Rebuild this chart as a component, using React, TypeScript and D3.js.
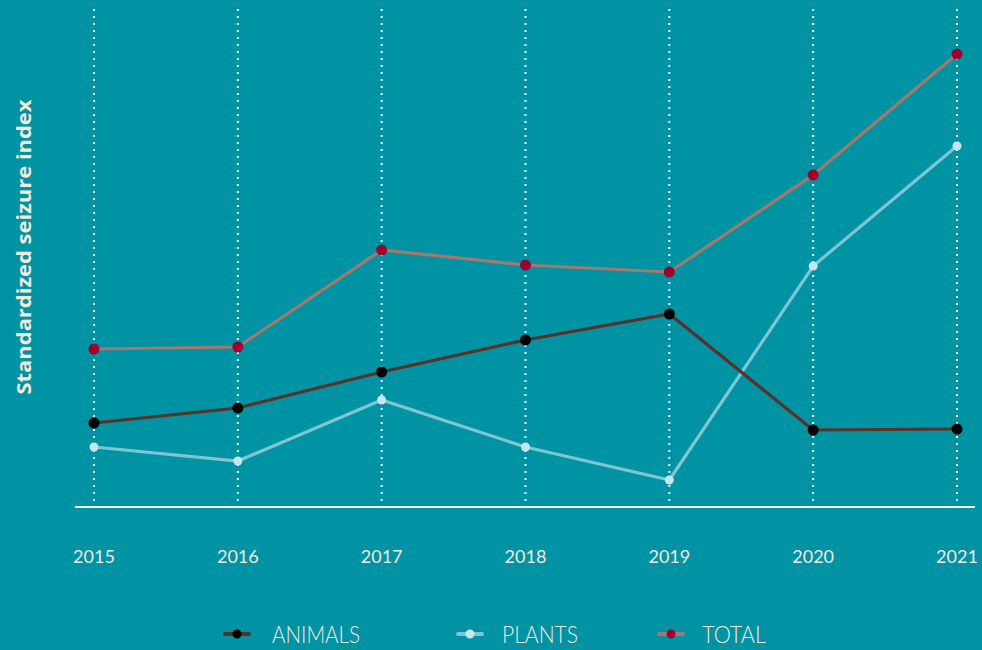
import React from "react";
import * as d3 from "d3";

const years = [2015, 2016, 2017, 2018, 2019, 2020, 2021];
const animals = [16.8, 19.8, 27, 33.4, 38.6, 15.4, 15.6];
const plants = [12, 9.2, 21.4, 12, 5.4, 48.2, 72.2];
const total = [31.6, 32, 51.4, 48.4, 47, 66.4, 90.6];
const seriesNames = ["ANIMALS", "PLANTS", "TOTAL"];

const W = 982;
const H = 650;
const BG = "#0093a4";
const TEXT = "#f3e9dc";

const styles: Record<string, { line: string; dot: string; r: number }> = {
  ANIMALS: { line: "#5b3029", dot: "#000000", r: 5.5 },
  PLANTS: { line: "#7ec6d4", dot: "#c8e5eb", r: 4.5 },
  TOTAL: { line: "#a5786b", dot: "#a0002e", r: 5.5 },
};

export default function App() {
  const x = d3.scalePoint<number>().domain(years).range([94, 957]);
  const y = d3.scaleLinear().domain([0, 100]).range([507, 7]);
  const line = d3
    .line<number>()
    .x((_, i) => x(years[i]) as number)
    .y((d) => y(d));
  const data: Record<string, number[]> = { ANIMALS: animals, PLANTS: plants, TOTAL: total };
  const drawOrder = ["TOTAL", "PLANTS", "ANIMALS"];
  const legendMarkX = [237, 470, 671];
  const legendTextX = [272, 502, 702];
  const legendTextW = [88, 76, 64];

  return (
    <svg
      width={W}
      height={H}
      style={{ position: "fixed", left: 0, top: 0, display: "block" }}
      fontFamily="Lato, 'Open Sans', sans-serif"
    >
      <rect width={W} height={H} fill={BG} />
      {years.map((yr) => (
        <line
          key={yr}
          x1={x(yr)}
          x2={x(yr)}
          y1={y(100) + 2}
          y2={y(0) - 6}
          stroke="#ffffff"
          strokeWidth={2}
          strokeDasharray="2,5"
        />
      ))}
      <line x1={75} x2={975} y1={y(0)} y2={y(0)} stroke="#ffffff" strokeWidth={2} />
      {years.map((yr) => (
        <text key={yr} x={x(yr)} y={563} textAnchor="middle" fontSize={18} fill={TEXT}>
          {yr}
        </text>
      ))}
      <text
        transform={`translate(31,247) rotate(-90)`}
        textAnchor="middle"
        fontSize={20}
        fontWeight={700}
        fill={TEXT}
        fontFamily="'Open Sans', Lato, sans-serif"
        textLength={295}
        lengthAdjust="spacingAndGlyphs"
      >
        Standardized seizure index
      </text>
      {drawOrder.map((name) => (
        <g key={name}>
          <path d={line(data[name]) || ""} fill="none" stroke={styles[name].line} strokeWidth={3.2} />
          {data[name].map((v, i) => (
            <circle key={i} cx={x(years[i])} cy={y(v)} r={styles[name].r} fill={styles[name].dot} />
          ))}
        </g>
      ))}
      {seriesNames.map((name, i) => (
        <g key={name}>
          <line
            x1={legendMarkX[i] - 12}
            x2={legendMarkX[i] + 12}
            y1={634}
            y2={634}
            stroke={styles[name].line}
            strokeWidth={4}
            strokeLinecap="round"
          />
          <circle cx={legendMarkX[i]} cy={634} r={4.5} fill={styles[name].dot} />
          <text
            x={legendTextX[i]}
            y={643}
            fontSize={24}
            fontWeight={300}
            fill={TEXT}
            textLength={legendTextW[i]}
            lengthAdjust="spacingAndGlyphs"
          >
            {name}
          </text>
        </g>
      ))}
    </svg>
  );
}
